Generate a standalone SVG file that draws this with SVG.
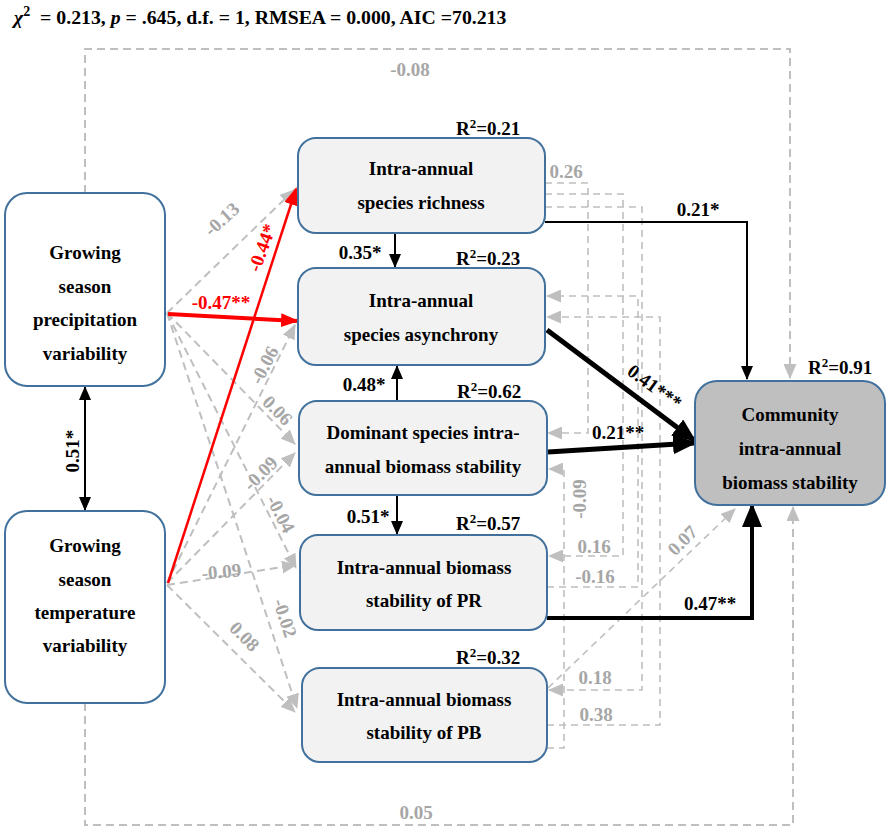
<svg xmlns="http://www.w3.org/2000/svg" width="887" height="828" viewBox="0 0 887 828" font-family="'Liberation Serif', 'DejaVu Serif', serif">
<style>
text{font-family:'Liberation Serif','DejaVu Serif',serif;font-weight:bold}
.title{font-size:19.8px;fill:#000}
.node{font-size:19px;fill:#000;text-anchor:middle}
.r2{font-size:19px;fill:#000}
.lg{font-size:19px;fill:#a6a6a6;text-anchor:middle}
.lb{font-size:19px;fill:#000;text-anchor:middle}
.lr{font-size:19px;fill:#ff0000;text-anchor:middle}
.box{stroke:#41719c;stroke-width:2}
.g{fill:none;stroke:#bfbfbf;stroke-width:2;stroke-dasharray:8 5;marker-end:url(#ag)}
.g2{fill:none;stroke:#bfbfbf;stroke-width:1.6;stroke-dasharray:7 5;marker-end:url(#ag)}
.b{fill:none;stroke:#000;stroke-width:2;marker-end:url(#ab)}
.bt{fill:none;stroke:#000;marker-end:url(#abt)}
.red{fill:none;stroke:#ff0000;marker-end:url(#ar)}
</style>
<defs>
<marker id="ag" markerUnits="userSpaceOnUse" markerWidth="15" markerHeight="13" refX="14" refY="6.5" orient="auto"><path d="M0,0 L15,6.5 L0,13 z" fill="#bfbfbf"/></marker>
<marker id="ab" markerUnits="userSpaceOnUse" markerWidth="14" markerHeight="12" refX="13" refY="6" orient="auto-start-reverse"><path d="M0,0 L14,6 L0,12 z" fill="#000"/></marker>
<marker id="abt" markerUnits="userSpaceOnUse" markerWidth="24" markerHeight="20" refX="21" refY="10" orient="auto"><path d="M0,0 L24,10 L0,20 z" fill="#000"/></marker>
<marker id="ar" markerUnits="userSpaceOnUse" markerWidth="18" markerHeight="14" refX="16" refY="7" orient="auto"><path d="M0,0 L18,7 L0,14 z" fill="#ff0000"/></marker>
</defs>
<rect width="887" height="828" fill="#fff"/>
<text class="title" x="14" y="24"><tspan font-style="italic">χ</tspan><tspan dy="-8" font-size="14">2</tspan><tspan dy="8" xml:space="preserve">  = 0.213, </tspan><tspan font-style="italic">p</tspan><tspan> = .645, d.f. = 1, RMSEA = 0.000, AIC =70.213</tspan></text>

<g id="connectors">
<path class="g" d="M85,193 V49 H790 V378"/>
<path class="g" d="M85,703 V825 H793 V507"/>
<path class="g" d="M167,313 L294,190"/>
<path class="g" d="M167,313 L295,444"/>
<path class="g" d="M167,313 L296,568"/>
<path class="g" d="M167,313 L297,708"/>
<path class="g" d="M167,583 L295,325"/>
<path class="g" d="M167,583 L295,453"/>
<path class="g" d="M167,585 L296,565"/>
<path class="g" d="M167,585 L295,712"/>
<path class="red" stroke-width="4" d="M168,314 L297,321"/>
<path class="red" stroke-width="2.5" d="M168,583 L296,189"/>
<path class="b" d="M85,387 L85,510" marker-start="url(#ab)"/>
<path class="b" d="M395,233 L395,267"/>
<path class="b" d="M397,401 L397,366"/>
<path class="b" d="M397,495 L397,534"/>
<path class="g2" d="M545,183 H588 V433 H548"/>
<path class="g2" d="M545,194 H623 V556 H549"/>
<path class="g2" d="M545,207 H642 V690 H549"/>
<path class="g2" d="M547,587 H638 V296 H547"/>
<path class="g2" d="M547,725 H660 V317 H547"/>
<path class="g2" d="M547,748 H564 V469 H549"/>
<path class="g2" d="M548,688 L735,509"/>
<path class="b" stroke-width="3" d="M545,222 H747 V379"/>
<path class="bt" stroke-width="5" d="M547,330 L694,440"/>
<path class="bt" stroke-width="5" d="M548,452 L694,443"/>
<path class="bt" stroke-width="4" d="M547,618 H752 V506"/>
</g>

<g id="n-precip">
<rect class="box" x="5" y="193" width="160" height="193" rx="22" fill="#fff"/>
<text class="node" x="85" y="259">Growing</text>
<text class="node" x="85" y="293">season</text>
<text class="node" x="85" y="326">precipitation</text>
<text class="node" x="85" y="360">variability</text>
</g>
<g id="n-temp">
<rect class="box" x="5" y="511" width="160" height="192" rx="22" fill="#fff"/>
<text class="node" x="85" y="552">Growing</text>
<text class="node" x="85" y="586">season</text>
<text class="node" x="85" y="619">temperature</text>
<text class="node" x="85" y="652">variability</text>
</g>
<g id="n-richness">
<rect class="box" x="298" y="138" width="247" height="95" rx="18" fill="#f2f2f2"/>
<text class="node" x="421" y="175">Intra-annual</text>
<text class="node" x="421" y="209">species richness</text>
</g>
<g id="n-asynchrony">
<rect class="box" x="298" y="268" width="247" height="97" rx="18" fill="#f2f2f2"/>
<text class="node" x="421" y="307">Intra-annual</text>
<text class="node" x="421" y="341">species asynchrony</text>
</g>
<g id="n-dominant">
<rect class="box" x="299" y="401" width="248" height="94" rx="18" fill="#f2f2f2"/>
<text class="node" x="423" y="439">Dominant species intra-</text>
<text class="node" x="423" y="473">annual biomass stability</text>
</g>
<g id="n-pr">
<rect class="box" x="300" y="535" width="247" height="95" rx="18" fill="#f2f2f2"/>
<text class="node" x="424" y="574">Intra-annual biomass</text>
<text class="node" x="424" y="607">stability of PR</text>
</g>
<g id="n-pb">
<rect class="box" x="302" y="668" width="245" height="94" rx="18" fill="#f2f2f2"/>
<text class="node" x="424" y="706">Intra-annual biomass</text>
<text class="node" x="424" y="739">stability of PB</text>
</g>
<g id="n-community">
<rect class="box" x="695" y="381" width="190" height="124" rx="22" fill="#bfbfbf"/>
<text class="node" x="790" y="421">Community</text>
<text class="node" x="790" y="455">intra-annual</text>
<text class="node" x="790" y="489">biomass stability</text>
</g>

<g id="r2-labels">
<text class="r2" x="456" y="135">R<tspan dy="-7" font-size="13">2</tspan><tspan dy="7">=0.21</tspan></text>
<text class="r2" x="456" y="265">R<tspan dy="-7" font-size="13">2</tspan><tspan dy="7">=0.23</tspan></text>
<text class="r2" x="457" y="398">R<tspan dy="-7" font-size="13">2</tspan><tspan dy="7">=0.62</tspan></text>
<text class="r2" x="456" y="530">R<tspan dy="-7" font-size="13">2</tspan><tspan dy="7">=0.57</tspan></text>
<text class="r2" x="456" y="664">R<tspan dy="-7" font-size="13">2</tspan><tspan dy="7">=0.32</tspan></text>
<text class="r2" x="808" y="374">R<tspan dy="-7" font-size="13">2</tspan><tspan dy="7">=0.91</tspan></text>
</g>

<g id="path-labels">
<text class="lg" x="410" y="76">-0.08</text>
<text class="lg" x="416" y="819">0.05</text>
<text class="lg" transform="translate(226,224) rotate(-42)">-0.13</text>
<text class="lr" transform="translate(268,250) rotate(-70)">-0.44*</text>
<text class="lr" x="221" y="309">-0.47**</text>
<text class="lg" transform="translate(270,368) rotate(-62)">-0.06</text>
<text class="lg" transform="translate(273,415) rotate(45)">0.06</text>
<text class="lg" transform="translate(265,478) rotate(-45)">-0.09</text>
<text class="lg" transform="translate(275,517) rotate(62)">-0.04</text>
<text class="lg" transform="translate(222,578) rotate(-5)">-0.09</text>
<text class="lg" transform="translate(279,620) rotate(72)">-0.02</text>
<text class="lg" transform="translate(240,641) rotate(45)">0.08</text>
<text class="lb" transform="translate(79,451) rotate(-90)">0.51*</text>
<text class="lb" x="360" y="259">0.35*</text>
<text class="lb" x="364" y="391">0.48*</text>
<text class="lb" x="368" y="523">0.51*</text>
<text class="lb" x="698" y="216">0.21*</text>
<text class="lb" transform="translate(651,392) rotate(36)">0.41***</text>
<text class="lb" x="618" y="439">0.21**</text>
<text class="lb" x="710" y="610">0.47**</text>
<text class="lg" x="566" y="178">0.26</text>
<text class="lg" transform="translate(586,499) rotate(-90)">-0.09</text>
<text class="lg" x="594" y="553">0.16</text>
<text class="lg" x="595" y="583">-0.16</text>
<text class="lg" transform="translate(687,545) rotate(-45)">0.07</text>
<text class="lg" x="595" y="684">0.18</text>
<text class="lg" x="596" y="721">0.38</text>
</g>
</svg>
